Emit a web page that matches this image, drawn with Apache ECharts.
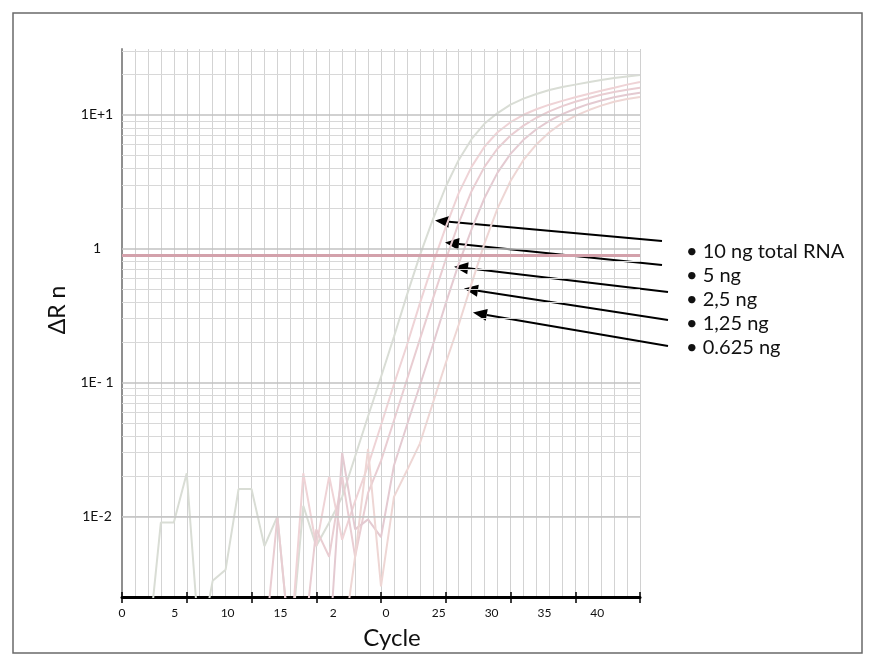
<!DOCTYPE html>
<html>
<head>
<meta charset="utf-8">
<script src="https://cdn.jsdelivr.net/npm/echarts@6/dist/echarts.min.js"></script>
<style>
html, body { margin: 0; padding: 0; background: #fff; }
#main { width: 874px; height: 666px; }
</style>
</head>
<body>
<div id="main"></div>
<script>
// ---- data ----
var cycles = [0, 1, 2, 3, 4, 5, 6, 7, 8, 9, 10, 11, 12, 13, 14, 15, 16, 17, 18, 19, 20,
	21, 22, 23, 24, 25, 26, 27, 28, 29, 30, 31, 32, 33, 34, 35, 36, 37, 38, 39, 40];

var L = 0.001; // under the axis minimum, the noise drops off the plot

var rn10 = [L, L, L, 0.009, 0.009, 0.021, L, 0.0033, 0.004, 0.016, 0.016, 0.006, 0.01, L,
	0.012, 0.006, 0.009, 0.014, 0.028, 0.056, 0.11, 0.22, 0.45, 0.89, 1.65, 2.9, 4.6, 6.6,
	8.6, 10.3, 11.9, 13.2, 14.3, 15.3, 16.1, 16.8, 17.5, 18.2, 18.8, 19.3, 19.8];
var rn5 = [L, L, L, L, L, L, L, L, L, L, L, L, L, L,
	0.021, 0.006, 0.02, 0.0067, 0.013, 0.024, 0.048, 0.097, 0.19, 0.39, 0.77, 1.45, 2.6, 4.1,
	5.8, 7.4, 8.8, 10.0, 11.0, 11.9, 12.7, 13.5, 14.3, 15.1, 15.9, 16.8, 17.6];
var rn25 = [L, L, L, L, L, L, L, L, L, L, L, L, 0.01, L,
	L, 0.008, 0.005, 0.02, 0.005, 0.015, 0.026, 0.052, 0.105, 0.21, 0.42, 0.83, 1.55, 2.7,
	4.1, 5.6, 7.0, 8.3, 9.5, 10.6, 11.6, 12.5, 13.3, 14.1, 14.8, 15.4, 15.9];
var rn125 = [L, L, L, L, L, L, L, L, L, L, L, L, L, L,
	L, L, L, 0.03, 0.008, 0.0095, 0.007, 0.024, 0.048, 0.095, 0.19, 0.39, 0.77, 1.4,
	2.4, 3.7, 5.1, 6.5, 7.8, 9.0, 10.1, 11.1, 12.0, 12.8, 13.5, 14.1, 14.6];
var rn0625 = [L, L, L, L, L, L, L, L, L, L, L, L, L, L,
	L, L, L, L, 0.005, 0.032, 0.003, 0.014, 0.022, 0.035, 0.07, 0.14, 0.27, 0.55,
	1.1, 2.0, 3.2, 4.6, 6.0, 7.4, 8.7, 9.8, 10.8, 11.7, 12.5, 13.1, 13.6];

var seriesNames = ['10 ng total RNA', '5 ng', '2,5 ng', '1,25 ng', '0.625 ng'];
var xTickLabels = ['0', '5', '10', '15', '2', '0', '25', '30', '35', '40'];
var yTickValues = [0.01, 0.1, 1, 10];
var yTickLabels = ['1E-2', '1E- 1', '1', '1E+1'];
var threshold = 0.89;
var gridMajor = [0.01, 0.1, 1, 10];
var gridMinor = [0.003, 0.004, 0.005, 0.006, 0.007, 0.008, 0.009,
	0.02, 0.03, 0.04, 0.05, 0.06, 0.07, 0.08, 0.09,
	0.2, 0.3, 0.4, 0.5, 0.6, 0.7, 0.8, 0.9,
	2, 3, 4, 5, 6, 7, 8, 9, 20, 30];
// where each arrow points, [cycle, dRn]
var arrowTargets = [[24.17, 1.62], [24.94, 1.11], [25.64, 0.734], [26.41, 0.503], [27.1, 0.333]];

// ---- chart ----
var font = 'Lato, "Open Sans", sans-serif';
var curveColors = ['#d9ddd5', '#efd3d6', '#e9cdd2', '#e4cad1', '#eed6d4'];
var curves = [rn10, rn5, rn25, rn125, rn0625];

var chart = echarts.init(document.getElementById('main'));

function pairs(arr) {
	return cycles.map(function(c, i) { return [c, arr[i]]; });
}

function yLabel(v) {
	for (var i = 0; i < yTickValues.length; i++) {
		if (Math.abs(Math.log10(v) - Math.log10(yTickValues[i])) < 1e-6) return yTickLabels[i];
	}
	return '';
}

var series = [];
// gridlines of the log axis (2..9 in every decade)
series.push({
	type : 'line',
	data : [],
	z : 1,
	silent : true,
	markLine : {
		silent : true,
		symbol : 'none',
		label : { show : false },
		animation : false,
		data : gridMinor.map(function(v) {
			return { yAxis : v, lineStyle : { color : '#d8d8d8', width : 1, type : 'solid' } };
		}).concat(gridMajor.map(function(v) {
			return { yAxis : v, lineStyle : { color : '#c2c2c2', width : 1.5, type : 'solid' } };
		}))
	}
});
// threshold
series.push({
	type : 'line',
	data : [],
	z : 2,
	silent : true,
	markLine : {
		silent : true,
		symbol : 'none',
		label : { show : false },
		animation : false,
		data : [ { yAxis : threshold, lineStyle : { color : '#d3a1ab', width : 3, type : 'solid' } } ]
	}
});
for (var i = 0; i < curves.length; i++) {
	series.push({
		name : seriesNames[i],
		type : 'line',
		data : pairs(curves[i]),
		symbol : 'none',
		z : 3,
		clip : true,
		lineStyle : { color : curveColors[i], width : 2 }
	});
}

var option = {
	animation : false,
	backgroundColor : '#fff',
	grid : { left : 122, right : 234, top : 49, bottom : 69 },
	xAxis : [ {
		type : 'value',
		min : 0,
		max : 40,
		interval : 5,
		position : 'bottom',
		axisLine : { onZero : false, lineStyle : { color : '#000', width : 3 } },
		axisTick : { show : true, length : 6, lineStyle : { color : '#000', width : 1.5 } },
		axisLabel : { show : false },
		splitLine : { show : true, lineStyle : { color : '#d0d0d0', width : 1 } },
		minorTick : { show : false, splitNumber : 5 },
		minorSplitLine : { show : true, lineStyle : { color : '#d3d3d3', width : 1 } },
		name : 'Cycle',
		nameLocation : 'middle',
		nameGap : 29,
		nameTextStyle : { fontFamily : font, fontSize : 24, color : '#111', padding : [0, 0, 0, 22] }
	}, {
		// inner half of the tick marks
		type : 'value',
		min : 0,
		max : 40,
		interval : 5,
		position : 'bottom',
		axisLine : { show : false, onZero : false },
		axisTick : { show : true, inside : true, length : 5, lineStyle : { color : '#000', width : 1.5 } },
		axisLabel : { show : false },
		splitLine : { show : false }
	}, {
		// the printed labels, which do not sit on the ticks
		type : 'value',
		min : 0,
		max : 9.81,
		interval : 1,
		position : 'bottom',
		axisLine : { show : false, onZero : false },
		axisTick : { show : false },
		splitLine : { show : false },
		axisLabel : {
			show : true,
			margin : 10,
			showMaxLabel : false,
			fontFamily : font,
			fontSize : 12,
			color : '#111',
			formatter : function(v) {
				return (v === Math.round(v) && xTickLabels[v] !== undefined) ? xTickLabels[v] : '';
			}
		}
	} ],
	yAxis : {
		type : 'log',
		logBase : 10,
		min : 0.0025,
		max : 31,
		axisLine : { show : true, lineStyle : { color : '#8f8f8f', width : 2 } },
		axisTick : { show : false },
		splitLine : { show : false },
		axisLabel : {
			show : true,
			margin : 25,
			align : 'center',
			fontFamily : font,
			fontSize : 14,
			color : '#111',
			formatter : yLabel
		},
		name : '\u0394R n',
		nameLocation : 'middle',
		nameGap : 49,
		nameRotate : 90,
		nameTextStyle : { fontFamily : font, fontSize : 23, color : '#111', padding : [0, 0, 0, 26] }
	},
	series : series
};

chart.setOption(option);

// ---- annotations: frame, legend text and arrows ----
var legendX = 686;
var legendY = [252, 276, 300, 324, 348];
var arrowTails = [[662, 241], [662, 265], [668, 292], [668, 320], [668, 346]];

var graphics = [ {
	type : 'rect',
	shape : { x : 13, y : 13, width : 849, height : 640 },
	style : { fill : 'none', stroke : '#6a6a6a', lineWidth : 1.5 },
	silent : true
} ];

for (var k = 0; k < seriesNames.length; k++) {
	graphics.push({
		type : 'text',
		x : legendX,
		y : legendY[k],
		style : {
			text : '\u2022 ' + seriesNames[k],
			fontFamily : font,
			fontSize : 20,
			fill : '#111',
			verticalAlign : 'middle'
		}
	});
	var head = chart.convertToPixel({ gridIndex : 0 }, arrowTargets[k]);
	var tail = arrowTails[k];
	var dx = head[0] - tail[0], dy = head[1] - tail[1];
	var len = Math.sqrt(dx * dx + dy * dy);
	var ux = dx / len, uy = dy / len;
	var hl = 14, hw = 6;
	var bx = head[0] - ux * hl, by = head[1] - uy * hl;
	graphics.push({
		type : 'line',
		shape : { x1 : tail[0], y1 : tail[1], x2 : bx, y2 : by },
		style : { stroke : '#000', lineWidth : 2 },
		silent : true
	});
	graphics.push({
		type : 'polygon',
		shape : { points : [ head, [bx - uy * hw, by + ux * hw], [bx + uy * hw, by - ux * hw] ] },
		style : { fill : '#000' },
		silent : true
	});
}

chart.setOption({ graphic : graphics });
</script>
</body>
</html>
